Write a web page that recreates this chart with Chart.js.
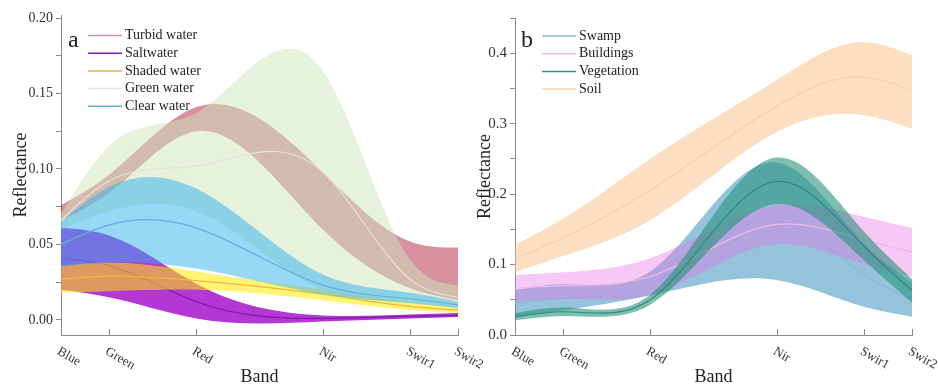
<!DOCTYPE html>
<html>
<head>
<meta charset="utf-8">
<script src="https://cdn.jsdelivr.net/npm/chart.js@4.4.1/dist/chart.umd.min.js"></script>
<style>
  body { margin: 0; background: #fff; }
  .wrap { position: relative; width: 938px; height: 384px; }
  canvas { display: block; position: absolute; top: 0; }
  #chartA { left: 0; }
  #chartB { left: 469px; }
</style>
</head>
<body>
<div class="wrap">
  <canvas id="chartA" width="500" height="384"></canvas>
  <canvas id="chartB" width="469" height="384"></canvas>
</div>
<script>
// band names and their positions on the x axis
const bands = ['Blue', 'Green', 'Red', 'Nir', 'Swir1', 'Swir2'];
const bandX = [0, 0.55, 1.55, 3, 4, 4.55];

// panel a - water types (upper / mean / lower of the band)
const turbidUpper = [0.076, 0.096, 0.141, 0.098, 0.052, 0.048];
const turbidMean  = [0.071, 0.090, 0.133, 0.080, 0.036, 0.030];
const turbidLower = [0.066, 0.084, 0.125, 0.060, 0.021, 0.013];

const saltUpper = [0.061, 0.056, 0.024, 0.003, 0.0035, 0.0045];
const saltMean  = [0.041, 0.036, 0.012, 0.001, 0.0025, 0.003];
const saltLower = [0.020, 0.015, 0.001, -0.001, 0.001, 0.002];

const shadedUpper = [0.036, 0.038, 0.032, 0.020, 0.012, 0.0086];
const shadedMean  = [0.027, 0.029, 0.026, 0.017, 0.009, 0.0065];
const shadedLower = [0.018, 0.019, 0.020, 0.013, 0.0066, 0.0046];

const greenUpper = [0.070, 0.115, 0.137, 0.165, 0.040, 0.023];
const greenMean  = [0.066, 0.092, 0.102, 0.098, 0.027, 0.015];
const greenLower = [0.060, 0.072, 0.072, 0.020, 0.012, 0.007];

const clearUpper = [0.065, 0.088, 0.087, 0.030, 0.018, 0.012];
const clearMean  = [0.050, 0.063, 0.061, 0.023, 0.014, 0.010];
const clearLower = [0.035, 0.038, 0.034, 0.017, 0.011, 0.008];

// panel b - land types
const swampUpper = [0.064, 0.072, 0.090, 0.245, 0.130, 0.075];
const swampMean  = [0.045, 0.052, 0.072, 0.162, 0.086, 0.050];
const swampLower = [0.025, 0.035, 0.056, 0.078, 0.040, 0.026];

const buildUpper = [0.085, 0.089, 0.109, 0.185, 0.168, 0.152];
const buildMean  = [0.066, 0.070, 0.083, 0.157, 0.135, 0.118];
const buildLower = [0.047, 0.051, 0.057, 0.129, 0.100, 0.083];

const vegUpper = [0.031, 0.039, 0.057, 0.252, 0.147, 0.080];
const vegMean  = [0.026, 0.033, 0.050, 0.218, 0.126, 0.063];
const vegLower = [0.021, 0.027, 0.043, 0.186, 0.106, 0.046];

const soilUpper = [0.128, 0.165, 0.250, 0.362, 0.416, 0.397];
const soilMean  = [0.108, 0.138, 0.206, 0.325, 0.366, 0.347];
const soilLower = [0.089, 0.112, 0.163, 0.288, 0.312, 0.293];

// y tick values
const yTicksA = [0, 0.025, 0.05, 0.075, 0.1, 0.125, 0.15, 0.175, 0.2];
const yTicksB = [0, 0.05, 0.1, 0.15, 0.2, 0.25, 0.3, 0.35, 0.4, 0.45];

const serif = '"Liberation Serif", "Times New Roman", serif';
const axisColor = '#8a8a8a';
const textColor = '#333';

// series listed in legend order; drawn bottom -> top in that order
const seriesA = [
  { label: 'Turbid water', upper: turbidUpper, mean: turbidMean, lower: turbidLower, fill: 'rgba(175,35,65,0.5)', line: '#d8909f' },
  { label: 'Saltwater', upper: saltUpper, mean: saltMean, lower: saltLower, fill: 'rgba(160,5,200,0.8)', line: '#7d1aa8' },
  { label: 'Shaded water', upper: shadedUpper, mean: shadedMean, lower: shadedLower, fill: 'rgba(255,235,0,0.55)', line: '#f2b53a' },
  { label: 'Green water', upper: greenUpper, mean: greenMean, lower: greenLower, fill: 'rgba(205,229,185,0.5)', line: '#e4e4d6' },
  { label: 'Clear water', upper: clearUpper, mean: clearMean, lower: clearLower, fill: 'rgba(50,178,240,0.5)', line: '#62aedc' }
];
const seriesB = [
  { label: 'Swamp', upper: swampUpper, mean: swampMean, lower: swampLower, fill: 'rgba(80,155,197,0.6)', line: '#86bcd6' },
  { label: 'Buildings', upper: buildUpper, mean: buildMean, lower: buildLower, fill: 'rgba(230,117,230,0.4)', line: '#eeb8ee' },
  { label: 'Vegetation', upper: vegUpper, mean: vegMean, lower: vegLower, fill: 'rgba(38,147,122,0.6)', line: '#2f8a82' },
  { label: 'Soil', upper: soilUpper, mean: soilMean, lower: soilLower, fill: 'rgba(249,189,135,0.5)', line: '#f6cfae' }
];

function pts(arr) {
  return arr.map((v, i) => ({ x: bandX[i], y: v }));
}

// Chart.js draws dataset 0 last, so build the list top series first
function buildDatasets(series) {
  const out = [];
  series.slice().reverse().forEach(s => {
    out.push({ label: s.label, data: pts(s.mean), borderColor: s.line, borderWidth: 1.2, fill: false });
    out.push({ label: s.label + ' upper', data: pts(s.upper), borderWidth: 0, borderColor: 'rgba(0,0,0,0)', backgroundColor: s.fill, fill: '+1' });
    out.push({ label: s.label + ' lower', data: pts(s.lower), borderWidth: 0, borderColor: 'rgba(0,0,0,0)', fill: false });
  });
  return out;
}

// natural cubic spline through the points, written into Chart.js control points
const splinePlugin = {
  id: 'naturalSpline',
  beforeDraw(chart) {
    chart.getSortedVisibleDatasetMetas().forEach(meta => {
      meta.dataset.updateControlPoints(chart.chartArea, 'x');
      const p = meta.data;
      const n = p.length;
      const h = [], d = [];
      for (let i = 0; i < n - 1; i++) {
        h[i] = p[i + 1].x - p[i].x;
        d[i] = (p[i + 1].y - p[i].y) / h[i];
      }
      const a = [], b = [], c = [], r = [];
      for (let i = 1; i < n - 1; i++) {
        a.push(h[i - 1]); b.push(2 * (h[i - 1] + h[i])); c.push(h[i]); r.push(6 * (d[i] - d[i - 1]));
      }
      const m = b.length;
      for (let i = 1; i < m; i++) {
        const w = a[i] / b[i - 1];
        b[i] -= w * c[i - 1];
        r[i] -= w * r[i - 1];
      }
      const M = new Array(n).fill(0);
      for (let i = m - 1; i >= 0; i--) {
        M[i + 1] = (r[i] - (i < m - 1 ? c[i] * M[i + 2] : 0)) / b[i];
      }
      for (let i = 0; i < n; i++) {
        const s = i < n - 1
          ? d[i] - h[i] * (2 * M[i] + M[i + 1]) / 6
          : d[n - 2] + h[n - 2] * (M[n - 2] + 2 * M[n - 1]) / 6;
        if (i > 0) { p[i].cp1x = p[i].x - h[i - 1] / 3; p[i].cp1y = p[i].y - s * h[i - 1] / 3; }
        if (i < n - 1) { p[i].cp2x = p[i].x + h[i] / 3; p[i].cp2y = p[i].y + s * h[i] / 3; }
      }
    });
  }
};

// inward x ticks, slanted band names, legend and panel letter
const decorPlugin = {
  id: 'decor',
  afterDraw(chart, args, opts) {
    const { ctx, chartArea } = chart;
    const x = chart.scales.x;
    ctx.save();
    ctx.strokeStyle = axisColor;
    ctx.lineWidth = 1;
    bandX.forEach((v, i) => {
      const px = Math.round(x.getPixelForValue(v)) + 0.5;
      if (i > 0) {
        ctx.beginPath();
        ctx.moveTo(px, chartArea.bottom);
        ctx.lineTo(px, chartArea.bottom - 6);
        ctx.stroke();
      }
      ctx.save();
      ctx.translate(px, chartArea.bottom + 10);
      ctx.rotate(Math.PI / 6);
      ctx.font = '13px ' + serif;
      ctx.fillStyle = textColor;
      ctx.textBaseline = 'top';
      ctx.textAlign = 'left';
      ctx.fillText(bands[i], 0, 0);
      ctx.restore();
    });

    ctx.fillStyle = '#222';
    ctx.font = '24px ' + serif;
    ctx.textBaseline = 'alphabetic';
    ctx.fillText(opts.letter, opts.letterX, 47);

    ctx.font = '14px ' + serif;
    ctx.textBaseline = 'middle';
    opts.series.forEach((s, i) => {
      const y = opts.legendY + i * 17.7;
      ctx.strokeStyle = s.line;
      ctx.lineWidth = 1.5;
      ctx.beginPath();
      ctx.moveTo(opts.legendX, y);
      ctx.lineTo(opts.legendX + 34, y);
      ctx.stroke();
      ctx.fillStyle = '#222';
      ctx.fillText(s.label, opts.legendX + 37, y);
    });
    ctx.restore();
  }
};

function makeChart(id, series, yMin, yMax, yTicks, digits, step, yWidth, padRight, padTop, tickSize, titlePad, decor) {
  return new Chart(document.getElementById(id), {
    type: 'line',
    data: { datasets: buildDatasets(series) },
    plugins: [splinePlugin, decorPlugin],
    options: {
      responsive: false,
      animation: false,
      events: [],
      layout: { padding: { left: 0, right: padRight, top: padTop, bottom: 0 } },
      elements: { point: { radius: 0 }, line: { tension: 0.4 } },
      plugins: {
        legend: { display: false },
        tooltip: { enabled: false },
        decor: decor
      },
      scales: {
        x: {
          type: 'linear',
          min: bandX[0],
          max: bandX[bandX.length - 1],
          grid: { display: false },
          border: { display: true, color: axisColor, width: 1 },
          ticks: { display: false },
          title: { display: true, text: 'Band', color: '#222', font: { family: serif, size: 18 }, padding: { top: 0, bottom: -4 } },
          afterFit(scale) { scale.height = 49; }
        },
        y: {
          min: yMin,
          max: yMax,
          afterBuildTicks(scale) { scale.ticks = yTicks.map(v => ({ value: v })); },
          grid: { display: true, drawOnChartArea: false, drawTicks: true, tickLength: 5, color: axisColor },
          border: { display: true, color: axisColor, width: 1 },
          ticks: {
            color: textColor,
            font: { family: serif, size: tickSize },
            padding: 3,
            callback(v) {
              const k = v / step;
              return Math.abs(k - Math.round(k)) < 1e-6 ? Number(v).toFixed(digits) : '';
            }
          },
          title: { display: true, text: 'Reflectance', color: '#222', font: { family: serif, size: 18 }, padding: { top: titlePad, bottom: 0 } },
          afterFit(scale) { scale.width = yWidth; }
        }
      }
    }
  });
}

makeChart('chartA', seriesA, -0.01, 0.202, yTicksA, 2, 0.05, 61, 42, 15, 14, 10,
  { series: seriesA, letter: 'a', letterX: 68, legendX: 88, legendY: 35.5 });
makeChart('chartB', seriesB, 0, 0.45, yTicksB, 1, 0.1, 46, 26, 18, 15, 5,
  { series: seriesB, letter: 'b', letterX: 52, legendX: 73, legendY: 36 });
</script>
</body>
</html>
